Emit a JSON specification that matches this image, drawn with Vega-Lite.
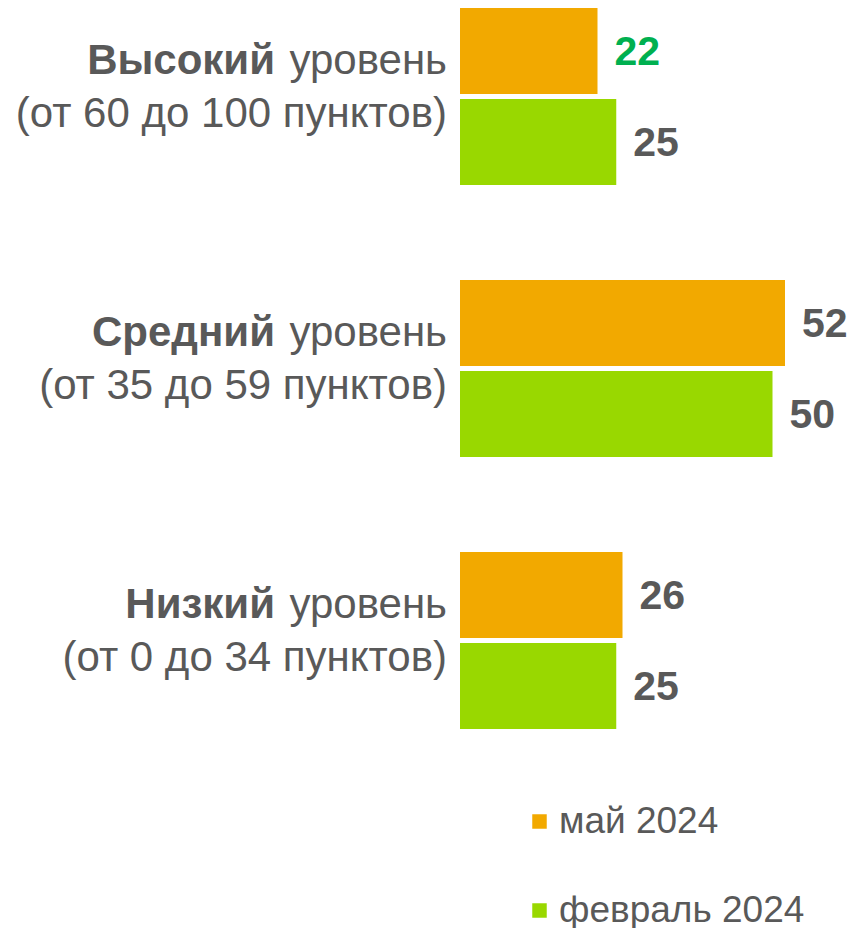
{
  "$schema": "https://vega.github.io/schema/vega-lite/v6.json",
  "width": 853,
  "height": 928,
  "padding": 0,
  "autosize": {"type": "none"},
  "background": "white",
  "config": {"view": {"stroke": null}, "font": "Liberation Sans"},
  "data": {"values": [
    {"level": "Высокий", "range": "(от 60 до 100 пунктов)", "series": "май 2024", "value": 22},
    {"level": "Высокий", "range": "(от 60 до 100 пунктов)", "series": "февраль 2024", "value": 25},
    {"level": "Средний", "range": "(от 35 до 59 пунктов)", "series": "май 2024", "value": 52},
    {"level": "Средний", "range": "(от 35 до 59 пунктов)", "series": "февраль 2024", "value": 50},
    {"level": "Низкий", "range": "(от 0 до 34 пунктов)", "series": "май 2024", "value": 26},
    {"level": "Низкий", "range": "(от 0 до 34 пунктов)", "series": "февраль 2024", "value": 25}
  ]},
  "encoding": {
    "y": {"field": "level", "type": "nominal", "sort": ["Высокий", "Средний", "Низкий"],
          "scale": {"range": [-39.5, 776.5], "paddingInner": 0, "paddingOuter": 0}, "axis": null}
  },
  "layer": [
    {
      "mark": {"type": "bar"},
      "encoding": {
        "x": {"field": "value", "type": "quantitative", "scale": {"domain": [-73.6, 62.88], "nice": false, "zero": false}, "axis": null},
        "x2": {"datum": 0},
        "yOffset": {"field": "series", "type": "nominal", "sort": ["май 2024", "февраль 2024"], "scale": {"paddingInner": 0.055, "paddingOuter": 0.522}},
        "color": {"field": "series", "type": "nominal",
                  "scale": {"domain": ["май 2024", "февраль 2024"], "range": ["#F2A900", "#99D800"]},
                  "legend": {"orient": "none", "legendX": 521, "legendY": 803, "direction": "vertical", "title": null,
                             "symbolType": "square", "symbolSize": 210, "symbolStrokeWidth": 0,
                             "labelFontSize": 37, "labelColor": "#595959", "labelFont": "Liberation Sans", "labelLimit": 0,
                             "rowPadding": 51, "labelOffset": 1, "padding": 0}}
      }
    },
    {
      "mark": {"type": "text", "align": "left", "baseline": "middle", "dx": 17, "dy": 2, "fontSize": 41, "fontWeight": "bold"},
      "encoding": {
        "x": {"field": "value", "type": "quantitative"},
        "yOffset": {"field": "series", "type": "nominal", "sort": ["май 2024", "февраль 2024"]},
        "text": {"field": "value", "type": "quantitative"},
        "color": {"condition": {"test": "datum.level === 'Высокий' && datum.series === 'май 2024'", "value": "#00B050"}, "value": "#595959"}
      }
    },
    {
      "transform": [{"filter": "datum.series === 'май 2024'"}],
      "mark": {"type": "text", "align": "right", "baseline": "alphabetic", "dy": -23, "fontSize": 42, "color": "#595959"},
      "encoding": {"x": {"datum": -2.08}, "text": {"value": "уровень"}}
    },
    {
      "transform": [{"filter": "datum.series === 'май 2024'"}],
      "mark": {"type": "text", "align": "right", "baseline": "alphabetic", "dy": -23, "fontSize": 42, "fontWeight": "bold", "color": "#595959"},
      "encoding": {"x": {"datum": -29.6}, "text": {"field": "level"}}
    },
    {
      "transform": [{"filter": "datum.series === 'май 2024'"}],
      "mark": {"type": "text", "align": "right", "baseline": "alphabetic", "dy": 30, "fontSize": 42, "color": "#595959"},
      "encoding": {"x": {"datum": -2.08}, "text": {"field": "range"}}
    }
  ]
}
